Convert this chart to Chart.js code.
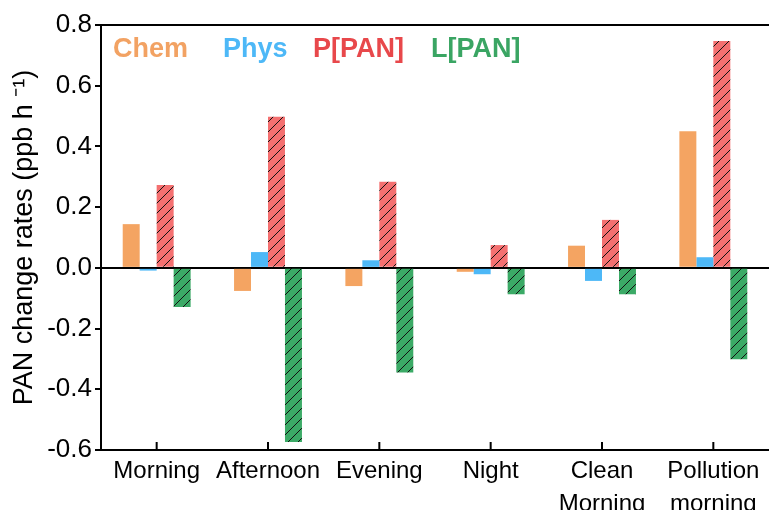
<!DOCTYPE html>
<html>
<head>
<meta charset="utf-8">
<script src="https://cdn.jsdelivr.net/npm/chart.js@4.4.1/dist/chart.umd.min.js"></script>
<style>
  html, body { margin: 0; padding: 0; background: #fff; overflow: hidden; }
  #wrap { width: 769px; height: 510px; position: relative; }
</style>
</head>
<body>
<div id="wrap"><canvas id="panChart"></canvas></div>
<script>
// ── Data ────────────────────────────────────────────────
const periods   = ['Morning', 'Afternoon', 'Evening', 'Night', ['Clean', 'Morning'], ['Pollution', 'morning']];
const chemRates = [0.144, -0.076, -0.060, -0.013, 0.073, 0.450];
const physRates = [-0.009, 0.052, 0.025, -0.021, -0.043, 0.035];
const prodPAN   = [0.273, 0.498, 0.284, 0.075, 0.158, 0.747];
const lossPAN   = [-0.129, -0.574, -0.345, -0.087, -0.087, -0.301];
const yTicks    = [-0.6, -0.4, -0.2, 0.0, 0.2, 0.4, 0.6, 0.8];

const FONT = "'Liberation Sans', Arial, sans-serif";

// diagonal "/" hatch over a fill colour
function hatch(fill) {
  const s = 10;
  const c = document.createElement('canvas');
  c.width = s; c.height = s;
  const g = c.getContext('2d');
  g.fillStyle = fill;
  g.fillRect(0, 0, s, s);
  g.strokeStyle = '#111';
  g.lineWidth = 1;
  g.beginPath();
  g.moveTo(0, s); g.lineTo(s, 0);
  g.moveTo(-s / 2, s / 2); g.lineTo(s / 2, -s / 2);
  g.moveTo(s / 2, s * 1.5); g.lineTo(s * 1.5, s / 2);
  g.stroke();
  return g.createPattern(c, 'repeat');
}

const legendItems = [
  { text: 'Chem',   color: '#F2A263', dx: 12 },
  { text: 'Phys',   color: '#4DB8F7', dx: 122 },
  { text: 'P[PAN]', color: '#E8484B', dx: 212 },
  { text: 'L[PAN]', color: '#3AA563', dx: 330 },
];

// ── Frame, inward x ticks and text legend ───────────────
const framePlugin = {
  id: 'frame',
  afterDraw(chart) {
    const { ctx, chartArea: a, scales } = chart;
    ctx.save();
    ctx.strokeStyle = '#000';
    ctx.lineWidth = 2;
    ctx.beginPath();
    ctx.moveTo(a.left - 1, a.top);
    ctx.lineTo(a.right + 2, a.top);
    ctx.stroke();
    const x = scales.x;
    ctx.beginPath();
    x.ticks.forEach((t, i) => {
      const px = x.getPixelForTick(i);
      ctx.moveTo(px, a.bottom);
      ctx.lineTo(px, a.bottom - 8);
    });
    ctx.stroke();
    ctx.font = `bold 27px ${FONT}`;
    ctx.textBaseline = 'alphabetic';
    legendItems.forEach(it => {
      ctx.fillStyle = it.color;
      ctx.fillText(it.text, a.left + it.dx, a.top + 32);
    });
    ctx.restore();
  }
};

new Chart(document.getElementById('panChart'), {
  type: 'bar',
  data: {
    labels: periods,
    datasets: [
      { label: 'Chem',   data: chemRates, backgroundColor: '#F4A462' },
      { label: 'Phys',   data: physRates, backgroundColor: '#4DB8F7' },
      { label: 'P[PAN]', data: prodPAN,   backgroundColor: hatch('#F47070') },
      { label: 'L[PAN]', data: lossPAN,   backgroundColor: hatch('#3BAA66') },
    ],
  },
  options: {
    responsive: true,
    maintainAspectRatio: false,
    animation: false,
    datasets: { bar: { barPercentage: 1, categoryPercentage: 0.61, borderWidth: 0 } },
    layout: { padding: { top: 25, right: 0, bottom: 0, left: 0 } },
    plugins: { legend: { display: false }, tooltip: { enabled: false } },
    scales: {
      x: {
        grid: { display: true, drawOnChartArea: false, drawTicks: false, offset: false },
        border: { color: '#000', width: 2 },
        ticks: { color: '#000', padding: 5, font: { family: FONT, size: 24, lineHeight: 1.38 }, maxRotation: 0, autoSkip: false },
        afterFit(scale) { scale.height = 60; },
      },
      y: {
        min: -0.6,
        max: 0.8,
        afterBuildTicks(scale) { scale.ticks = yTicks.map(v => ({ value: v })); },
        grid: {
          color: c => (c.tick && Math.abs(c.tick.value) < 1e-9 ? '#000' : 'rgba(0,0,0,0)'),
          lineWidth: 2,
          tickColor: '#000',
          tickLength: 6,
          tickWidth: 2,
        },
        border: { color: '#000', width: 2 },
        ticks: { color: '#000', padding: 3, font: { family: FONT, size: 26 }, callback: v => v.toFixed(1) },
        title: {
          display: true,
          text: 'PAN change rates (ppb h ⁻¹)',
          color: '#000',
          font: { family: FONT, size: 27 },
          padding: { top: 8, bottom: 0 },
        },
        afterFit(scale) { scale.width = 101; },
      },
    },
  },
  plugins: [framePlugin],
});
</script>
</body>
</html>
